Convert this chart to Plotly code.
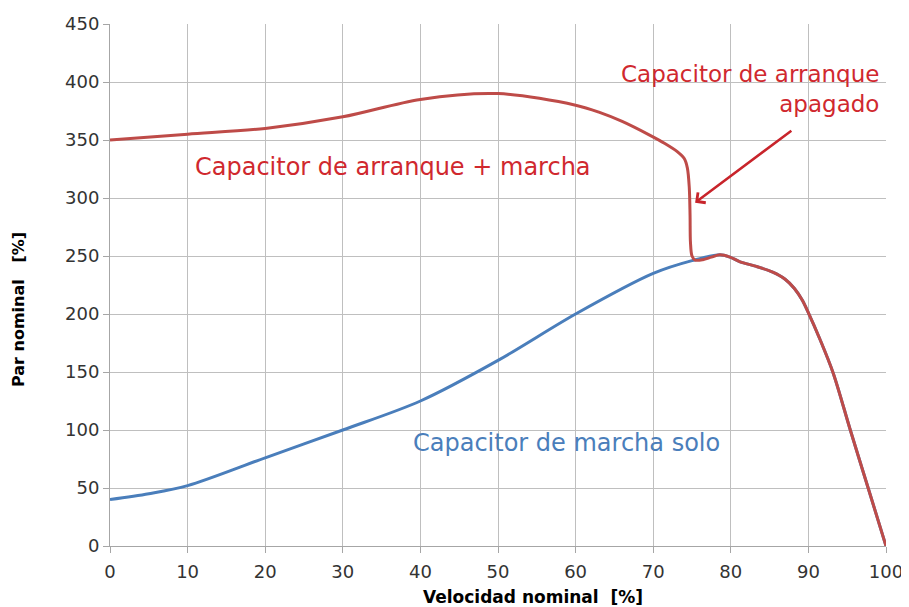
import plotly.graph_objects as go

# Data
speed_red = [0, 10, 20, 30, 40, 50, 60, 63, 66, 69.6, 71.5, 73.1, 74.0, 74.4, 74.65, 74.75, 74.8, 75.0, 75.4, 76.4, 77.5, 78.6, 79.9, 81.2, 83.3, 85.4, 87.0, 88.2, 89.2, 90, 91.5, 93.2, 95.4, 97.7, 100]
torque_red = [350, 355, 360, 370, 385, 390, 380, 374, 366, 354, 347, 340, 334, 326, 309, 285, 262, 250, 246.5, 246.8, 249, 251, 249, 245, 241, 236, 230, 222, 212, 201, 178, 149, 100, 50, 0]

speed_blue = [0, 5, 10, 20, 30, 40, 50, 60, 70, 75, 78.6, 79.9, 81.2, 83.3, 85.4, 87.0, 88.2, 89.2, 90, 91.5, 93.2, 95.4, 97.7, 100]
torque_blue = [40, 45, 52, 76, 100, 125, 160, 200, 235, 246, 251, 249, 245, 241, 236, 230, 222, 212, 201, 178, 149, 100, 50, 0]

x_ticks = [0, 10, 20, 30, 40, 50, 60, 70, 80, 90, 100]
y_ticks = [0, 50, 100, 150, 200, 250, 300, 350, 400, 450]

fig = go.Figure()
fig.add_trace(go.Scatter(x=speed_blue, y=torque_blue, mode="lines",
                         line=dict(color="#4a7ebb", width=3, shape="spline", smoothing=0.9),
                         hoverinfo="skip", showlegend=False))
fig.add_trace(go.Scatter(x=speed_red, y=torque_red, mode="lines",
                         line=dict(color="#be4b48", width=3, shape="spline", smoothing=0.9),
                         hoverinfo="skip", showlegend=False))

txt_font = dict(family="DejaVu Sans", size=24, color="#d0282e")
fig.add_annotation(x=36.5, y=327, text="Capacitor de arranque + marcha", showarrow=False,
                   font=txt_font, xanchor="center", yanchor="middle")
fig.add_annotation(x=58.8, y=89, text="Capacitor de marcha solo", showarrow=False,
                   font=dict(family="DejaVu Sans", size=24, color="#4a7ebb"),
                   xanchor="center", yanchor="middle")
fig.add_annotation(x=99.3, y=394, text="Capacitor de arranque<br>apagado", showarrow=False,
                   font=dict(family="DejaVu Sans", size=23, color="#d0282e"),
                   xanchor="right", yanchor="middle", align="right")
fig.add_annotation(x=75.4, y=296, ax=88.0, ay=359, xref="x", yref="y", axref="x", ayref="y",
                   showarrow=True, arrowhead=4, arrowsize=1.0, arrowwidth=2.5,
                   arrowcolor="#c8242b", text="")

# axis titles as annotations (positioned off-centre as in the original)
title_font = dict(family="DejaVu Sans", size=17, color="black", weight="bold")
fig.add_annotation(xref="paper", yref="paper", x=0.545, y=0, yshift=-51,
                   text="Velocidad nominal  [%]", showarrow=False, font=title_font,
                   xanchor="center", yanchor="middle")
fig.add_annotation(xref="paper", yref="paper", x=0, y=0.452, xshift=-92,
                   text="Par nominal   [%]", showarrow=False, textangle=-90,
                   font=dict(family="DejaVu Sans", size=16, color="black", weight="bold"),
                   xanchor="center", yanchor="middle")

fig.update_layout(
    width=909, height=607,
    margin=dict(l=102, r=31, t=16, b=69, autoexpand=False),
    paper_bgcolor="white", plot_bgcolor="white",
    font=dict(family="DejaVu Sans", size=18, color="#333333"),
)
fig.update_xaxes(range=[0, 100], tickvals=x_ticks, showgrid=True, gridcolor="#bfbfbf", gridwidth=1,
                 showline=True, linecolor="#a6a6a6", linewidth=1, ticks="outside", ticklen=6,
                 tickcolor="#a6a6a6", zeroline=False, automargin=False, ticklabelstandoff=3)
fig.update_yaxes(range=[0, 450], tickvals=y_ticks, showgrid=True, gridcolor="#bfbfbf", gridwidth=1,
                 showline=True, linecolor="#a6a6a6", linewidth=1, ticks="outside", ticklen=6,
                 tickcolor="#a6a6a6", zeroline=False, automargin=False)

fig.write_html("out.html")
